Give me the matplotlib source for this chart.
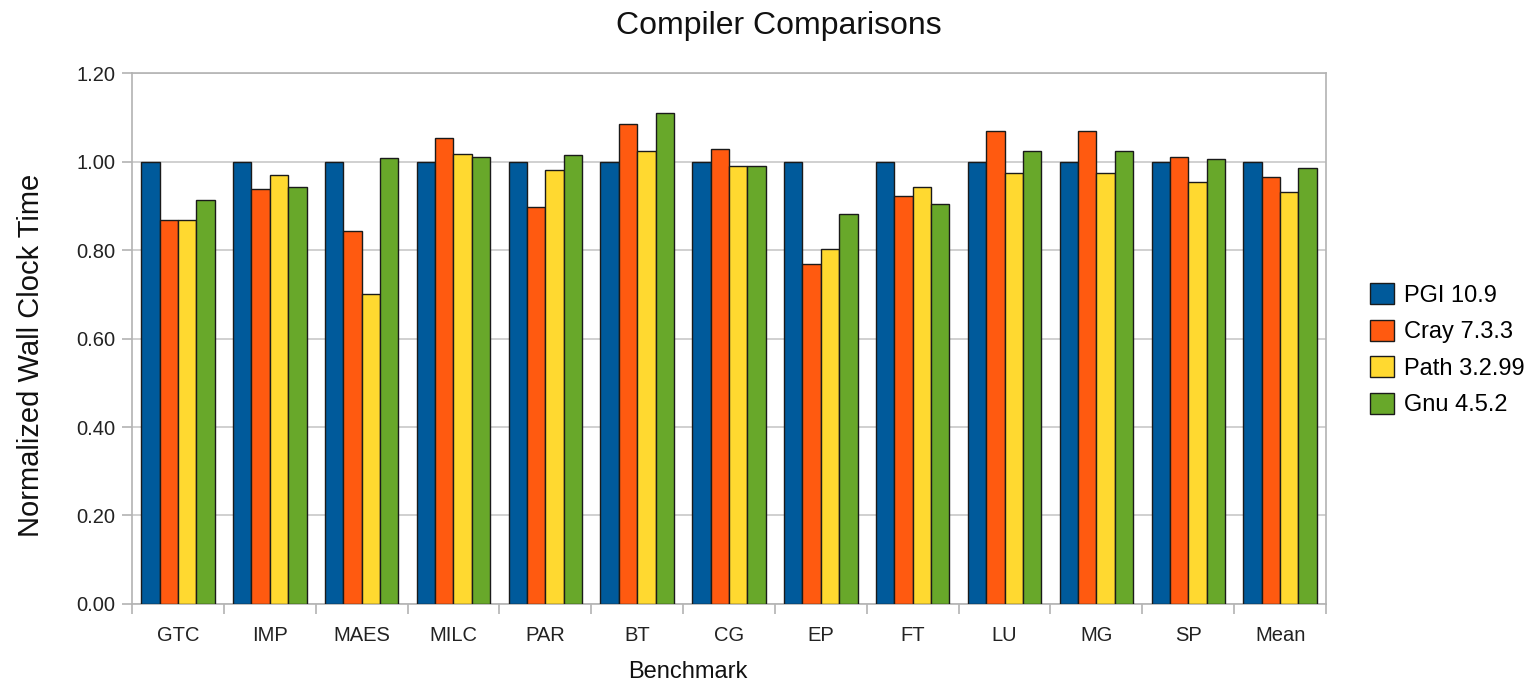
import numpy as np
import matplotlib
matplotlib.use("Agg")
import matplotlib.pyplot as plt
from matplotlib.patches import Patch

plt.rcParams["font.family"] = ["Liberation Sans", "DejaVu Sans"]

# ---- data ----
benchmarks = ["GTC", "IMP", "MAES", "MILC", "PAR", "BT", "CG", "EP", "FT", "LU", "MG", "SP", "Mean"]
pgi = [1.00, 1.00, 1.00, 1.00, 1.00, 1.00, 1.00, 1.00, 1.00, 1.00, 1.00, 1.00, 1.00]
cray = [0.868, 0.939, 0.843, 1.053, 0.897, 1.085, 1.028, 0.768, 0.923, 1.069, 1.069, 1.011, 0.964]
path = [0.868, 0.970, 0.700, 1.018, 0.980, 1.025, 0.989, 0.802, 0.942, 0.974, 0.974, 0.954, 0.932]
gnu = [0.913, 0.942, 1.008, 1.011, 1.014, 1.109, 0.989, 0.881, 0.903, 1.024, 1.024, 1.005, 0.986]

series = [("PGI 10.9", pgi, "#005a9b"),
          ("Cray 7.3.3", cray, "#ff5a10"),
          ("Path 3.2.99", path, "#ffd930"),
          ("Gnu 4.5.2", gnu, "#68a82a")]

# ---- plot ----
fig = plt.figure(figsize=(15.39, 6.83), dpi=100)
ax = fig.add_axes([0.0858, 0.1157, 0.7758, 0.7773])

x = np.arange(len(benchmarks))
w = 0.2
for i, (name, vals, col) in enumerate(series):
    ax.bar(x - 0.3 + i * w, vals, width=w, color=col, edgecolor="#1a1a1a",
           linewidth=1.0, label=name, zorder=3)

ax.set_xlim(-0.5, len(benchmarks) - 0.5)
ax.set_ylim(0, 1.2)
yt = np.arange(0, 1.21, 0.2)
ax.set_yticks(yt)
ax.set_yticklabels([f"{v:.2f}" for v in yt], fontsize=14.5, color="#222222")
ax.yaxis.grid(True, color="#c8c8c8", linewidth=1.2, zorder=0)

# category labels centered, ticks at boundaries
ax.set_xticks(x)
ax.set_xticklabels(benchmarks, fontsize=14.5, color="#222222")
ax.tick_params(axis="x", length=0, pad=16)
ax.set_xticks(np.arange(-0.5, len(benchmarks), 1), minor=True)
ax.tick_params(axis="x", which="minor", length=7, color="#b3b3b3", width=1.2)
ax.tick_params(axis="y", length=7, color="#b3b3b3", width=1.2, pad=5)

for s in ax.spines.values():
    s.set_color("#b3b3b3")
    s.set_linewidth(1.2)

fig.text(0.506, 0.962, "Compiler Comparisons", fontsize=23, ha="center", va="center", color="#111111")
fig.text(0.447, 0.008, "Benchmark", fontsize=17, ha="center", va="baseline", color="#111111")
fig.text(0.020, 0.48, "Normalized Wall Clock Time", fontsize=21, rotation=90,
         ha="center", va="center", color="#111111")

handles = [Patch(facecolor=c, edgecolor="#1a1a1a", label=n) for n, _, c in series]
fig.legend(handles=handles, loc="center left", bbox_to_anchor=(0.8825, 0.488),
           frameon=False, fontsize=17, handlelength=1.0, handleheight=1.0,
           handletextpad=0.45, labelspacing=0.55, borderpad=0)

fig.savefig("out.png", dpi=100)
